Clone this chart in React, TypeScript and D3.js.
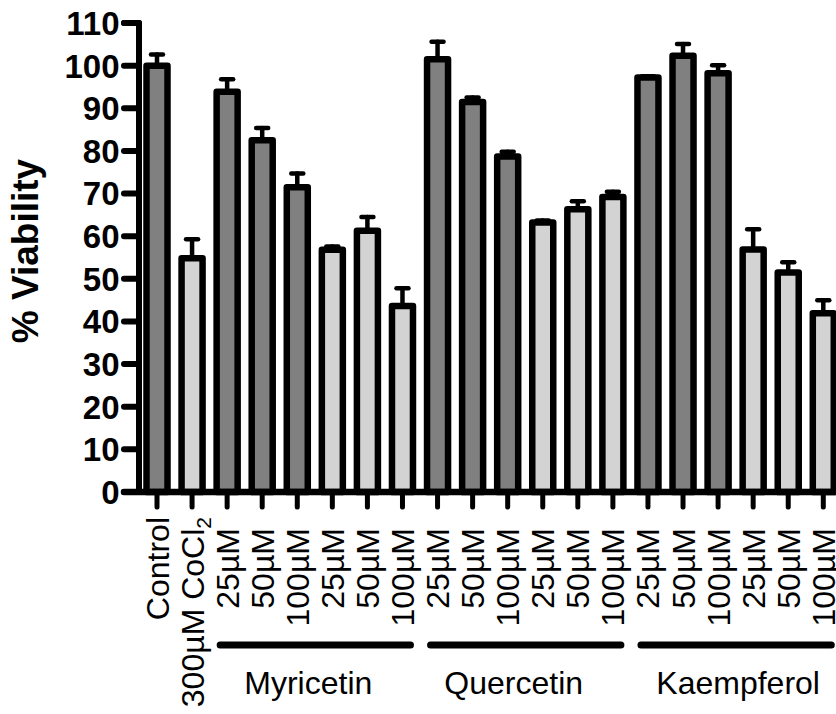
import React from "react";
import * as d3 from "d3";

const categories = [
  "Control", "300µM CoCl2",
  "25µM", "50µM", "100µM", "25µM", "50µM", "100µM",
  "25µM", "50µM", "100µM", "25µM", "50µM", "100µM",
  "25µM", "50µM", "100µM", "25µM", "50µM", "100µM",
];
const viability = [100, 54.8, 93.9, 82.5, 71.5, 56.8, 61.3, 43.6, 101.5, 91.5, 78.7, 63.2, 66.3, 69.2, 97.2, 102.3, 98.2, 56.9, 51.5, 41.9];
const sem = [2.6, 4.5, 2.9, 2.9, 3.2, 0.8, 3.2, 4.2, 4.1, 1.0, 1.1, 0.5, 1.9, 1.2, 0.3, 2.8, 1.9, 4.7, 2.4, 3.1];
const shade = ["dark", "light", "dark", "dark", "dark", "light", "light", "light", "dark", "dark", "dark", "light", "light", "light", "dark", "dark", "dark", "light", "light", "light"];
const groupNames = ["Myricetin", "Quercetin", "Kaempferol"];
const groupStart = [2, 8, 14];
const groupEnd = [7, 13, 19];
const yTicks = [0, 10, 20, 30, 40, 50, 60, 70, 80, 90, 100, 110];

const W = 836;
const H = 714;
const FONT = "Arial, 'Liberation Sans', Helvetica, sans-serif";

export default function App() {
  const y = d3.scaleLinear().domain([0, 110]).range([492, 23]);
  const x = d3.scalePoint<number>().domain(d3.range(categories.length)).range([157, 823.3]);
  const axisX = 139;
  const y0 = y(0);
  const barW = 21;
  const labelShift = [-7, -12, 2];

  return (
    <svg width={W} height={H} style={{ position: "absolute", left: 0, top: 0, background: "#fff" }}>
      {/* bars */}
      {viability.map((v, i) => {
        const cx = x(i)!;
        return (
          <rect key={"b" + i} x={cx - barW / 2} y={y(v)} width={barW} height={y0 - y(v)}
            fill={shade[i] === "dark" ? "#808080" : "#d3d3d3"} stroke="#000" strokeWidth={6.5}
            strokeLinejoin="round" />
        );
      })}
      {/* error bars */}
      {viability.map((v, i) => {
        const cx = x(i)!;
        const top = y(v + sem[i]);
        return (
          <g key={"e" + i} stroke="#000" strokeLinecap="round">
            <line x1={cx} x2={cx} y1={y(v)} y2={top} strokeWidth={4.5} />
            <line x1={cx - 6} x2={cx + 6} y1={top} y2={top} strokeWidth={4.5} />
          </g>
        );
      })}
      {/* y axis */}
      <g stroke="#000" strokeLinecap="round" strokeLinejoin="round" fill="none">
        <path d={`M${axisX - 15},${y(110)} L${axisX},${y(110)} L${axisX},${y0}`} strokeWidth={6} />
        {yTicks.map((t) => (
          <line key={"yt" + t} x1={axisX - 15} x2={axisX} y1={y(t)} y2={y(t)} strokeWidth={6} />
        ))}
      </g>
      {yTicks.map((t) => (
        <text key={"yl" + t} x={119.5} y={y(t)} dy="0.36em" textAnchor="end" fontFamily={FONT}
          fontWeight="bold" fontSize={33}>{t}</text>
      ))}
      {/* x axis */}
      <g stroke="#000" strokeLinecap="round">
        <line x1={axisX - 15} x2={W + 10} y1={y0} y2={y0} strokeWidth={6.5} />
        {categories.map((c, i) => (
          <line key={"xt" + i} x1={x(i)!} x2={x(i)!} y1={y0} y2={y0 + 15} strokeWidth={5} />
        ))}
      </g>
      {/* category labels */}
      {categories.map((c, i) => {
        const cx = x(i)!;
        const yEnd = i < 2 ? 517 : 528;
        const isCo = c.endsWith("CoCl2");
        return (
          <text key={"xl" + i} transform={`translate(${cx + 11.5},${yEnd}) rotate(-90)`} textAnchor="end"
            fontFamily={FONT} fontSize={32}>
            {isCo ? (
              <>
                {c.slice(0, -1)}
                <tspan dy={7} fontSize={21}>{c.slice(-1)}</tspan>
              </>
            ) : c}
          </text>
        );
      })}
      {/* group lines and labels */}
      {groupNames.map((g, k) => {
        const x1 = x(groupStart[k])! - 7;
        const x2 = x(groupEnd[k])! + 8;
        return (
          <g key={"g" + k}>
            <line x1={x1} x2={x2} y1={645} y2={645} stroke="#000" strokeWidth={7} strokeLinecap="round" />
            <text x={(x1 + x2) / 2 + labelShift[k]} y={694} textAnchor="middle" fontFamily={FONT} fontSize={32}>{g}</text>
          </g>
        );
      })}
      {/* y title */}
      <text transform={`translate(38,251) rotate(-90)`} textAnchor="middle" fontFamily={FONT}
        fontWeight="bold" fontSize={37}>% Viability</text>
    </svg>
  );
}
